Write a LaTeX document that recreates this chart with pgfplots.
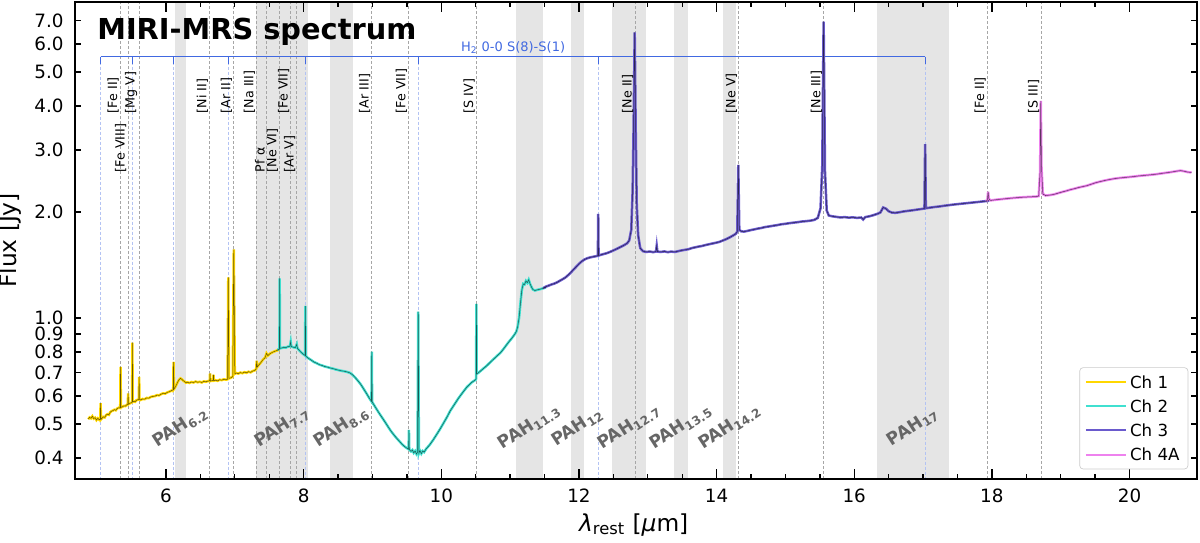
\documentclass[border=0pt]{standalone}
\usepackage{fontspec}
\setmainfont{DejaVu Sans}
\usepackage{pgfplots}
\usepackage{pgfplotstable}
\pgfplotsset{compat=1.18}

\definecolor{chone}{HTML}{FFD700}
\definecolor{chtwo}{HTML}{40E0D0}
\definecolor{chthree}{HTML}{6A5ACD}
\definecolor{chfour}{HTML}{EE82EE}
\definecolor{band}{HTML}{E5E5E5}
\definecolor{htwo}{HTML}{4169E1}
\definecolor{pahgray}{HTML}{666666}

% Channel 1
\pgfplotstableread{
lam flux
4.87 0.516
4.89 0.522
4.91 0.519
4.93 0.526
4.95 0.518
4.97 0.521
4.99 0.513
5.01 0.519
5.03 0.514
5.045 0.516
5.05 0.573
5.055 0.515
5.07 0.519
5.09 0.524
5.11 0.522
5.13 0.530
5.15 0.533
5.17 0.531
5.19 0.540
5.21 0.544
5.23 0.546
5.25 0.549
5.27 0.547
5.29 0.553
5.31 0.556
5.335 0.555
5.34 0.727
5.345 0.557
5.37 0.560
5.39 0.563
5.41 0.562
5.43 0.567
5.445 0.568
5.45 0.611
5.455 0.569
5.48 0.573
5.50 0.575
5.508 0.576
5.512 0.851
5.516 0.578
5.53 0.580
5.55 0.578
5.57 0.584
5.59 0.586
5.605 0.587
5.61 0.681
5.615 0.588
5.63 0.585
5.66 0.589
5.69 0.588
5.72 0.593
5.75 0.592
5.78 0.597
5.81 0.599
5.84 0.600
5.87 0.604
5.90 0.603
5.93 0.608
5.96 0.611
5.99 0.610
6.02 0.615
6.05 0.618
6.08 0.622
6.105 0.625
6.11 0.751
6.115 0.628
6.13 0.634
6.15 0.645
6.17 0.658
6.19 0.668
6.21 0.674
6.23 0.670
6.25 0.664
6.27 0.660
6.29 0.655
6.31 0.657
6.34 0.654
6.37 0.658
6.40 0.656
6.43 0.660
6.46 0.657
6.49 0.659
6.52 0.656
6.55 0.661
6.58 0.659
6.61 0.662
6.635 0.663
6.64 0.696
6.645 0.662
6.67 0.664
6.685 0.665
6.69 0.690
6.695 0.664
6.72 0.666
6.75 0.663
6.78 0.668
6.81 0.666
6.84 0.670
6.87 0.668
6.895 0.670
6.905 1.305
6.915 0.674
6.94 0.676
6.97 0.682
6.985 1.567
7.00 0.694
7.02 0.698
7.05 0.695
7.08 0.700
7.11 0.697
7.14 0.702
7.17 0.699
7.20 0.704
7.23 0.701
7.26 0.707
7.29 0.710
7.31 0.716
7.318 0.756
7.326 0.726
7.35 0.736
7.38 0.748
7.41 0.762
7.44 0.772
7.46 0.794
7.48 0.782
7.51 0.792
7.54 0.798
7.57 0.803
7.60 0.807
7.63 0.811
7.65 0.813
}\chA

% Channel 2
\pgfplotstableread{
lam flux
7.62 0.812
7.64 0.816
7.648 0.818
7.652 1.296
7.656 0.820
7.68 0.822
7.71 0.825
7.74 0.824
7.77 0.829
7.80 0.831
7.812 0.856
7.82 0.830
7.85 0.826
7.88 0.824
7.90 0.842
7.91 0.820
7.94 0.808
7.97 0.797
8.00 0.788
8.02 0.783
8.025 1.082
8.03 0.780
8.06 0.771
8.09 0.764
8.12 0.757
8.15 0.750
8.19 0.744
8.23 0.737
8.27 0.733
8.31 0.728
8.35 0.725
8.39 0.721
8.43 0.718
8.47 0.714
8.51 0.711
8.55 0.708
8.59 0.706
8.63 0.703
8.67 0.699
8.71 0.690
8.75 0.677
8.79 0.663
8.83 0.648
8.87 0.630
8.91 0.612
8.95 0.594
8.985 0.580
8.99 0.802
8.995 0.578
9.03 0.563
9.07 0.547
9.11 0.532
9.15 0.518
9.19 0.504
9.23 0.490
9.27 0.477
9.31 0.466
9.35 0.456
9.39 0.447
9.43 0.438
9.47 0.431
9.50 0.427
9.525 0.424
9.53 0.481
9.535 0.423
9.56 0.418
9.58 0.422
9.60 0.414
9.62 0.419
9.64 0.411
9.655 0.416
9.665 1.042
9.675 0.413
9.69 0.420
9.71 0.412
9.73 0.419
9.75 0.416
9.78 0.425
9.83 0.436
9.88 0.450
9.93 0.466
9.98 0.483
10.03 0.502
10.08 0.522
10.13 0.545
10.19 0.568
10.25 0.592
10.31 0.614
10.37 0.636
10.44 0.656
10.50 0.668
10.505 0.672
10.51 1.096
10.515 0.694
10.54 0.699
10.58 0.710
10.62 0.721
10.66 0.732
10.70 0.745
10.74 0.758
10.78 0.771
10.82 0.784
10.86 0.797
10.90 0.815
10.94 0.835
10.98 0.855
11.02 0.874
11.06 0.895
11.09 0.915
11.11 0.945
11.13 1.00
11.15 1.10
11.17 1.20
11.19 1.25
11.21 1.245
11.23 1.275
11.25 1.26
11.27 1.285
11.29 1.25
11.31 1.225
11.33 1.205
11.36 1.197
11.40 1.203
11.44 1.208
11.48 1.215
11.52 1.222
}\chB

% Channel 3
\pgfplotstableread{
lam flux
11.48 1.215
11.52 1.228
11.56 1.236
11.60 1.245
11.64 1.252
11.68 1.262
11.72 1.275
11.76 1.288
11.80 1.302
11.84 1.322
11.88 1.345
11.92 1.372
11.96 1.398
12.00 1.425
12.04 1.448
12.08 1.466
12.12 1.478
12.16 1.486
12.20 1.492
12.26 1.500
12.275 1.502
12.28 1.975
12.285 1.505
12.32 1.512
12.36 1.520
12.40 1.527
12.45 1.540
12.50 1.556
12.55 1.572
12.60 1.590
12.65 1.608
12.70 1.630
12.73 1.66
12.76 1.78
12.78 2.3
12.795 3.6
12.81 6.48
12.825 3.4
12.84 2.1
12.86 1.72
12.89 1.58
12.93 1.548
12.98 1.540
13.03 1.545
13.08 1.538
13.12 1.545
13.13 1.605
13.14 1.544
13.19 1.540
13.24 1.546
13.29 1.538
13.34 1.544
13.39 1.540
13.44 1.548
13.49 1.556
13.54 1.562
13.59 1.568
13.64 1.580
13.69 1.588
13.74 1.596
13.79 1.602
13.84 1.612
13.89 1.620
13.94 1.628
13.99 1.636
14.04 1.645
14.09 1.660
14.14 1.675
14.19 1.694
14.24 1.716
14.28 1.735
14.30 1.76
14.315 2.72
14.33 1.78
14.36 1.762
14.40 1.760
14.45 1.768
14.50 1.778
14.55 1.786
14.60 1.795
14.65 1.802
14.70 1.812
14.76 1.820
14.82 1.828
14.88 1.836
14.94 1.846
15.00 1.852
15.06 1.860
15.12 1.866
15.18 1.872
15.24 1.880
15.30 1.884
15.36 1.890
15.42 1.900
15.47 1.925
15.51 2.05
15.535 2.7
15.555 6.95
15.575 2.6
15.60 2.02
15.63 1.955
15.68 1.945
15.74 1.938
15.80 1.930
15.86 1.935
15.92 1.928
15.98 1.932
16.04 1.925
16.10 1.930
16.13 1.905
16.16 1.935
16.22 1.945
16.28 1.960
16.34 1.978
16.38 1.995
16.42 2.060
16.46 2.045
16.50 2.010
16.55 1.992
16.60 1.990
16.66 1.998
16.72 2.008
16.78 2.015
16.84 2.022
16.90 2.030
16.96 2.038
17.02 2.046
17.03 3.12
17.04 2.050
17.10 2.058
17.16 2.066
17.22 2.072
17.28 2.080
17.34 2.088
17.40 2.095
17.46 2.102
17.52 2.108
17.58 2.114
17.64 2.120
17.70 2.126
17.76 2.132
17.82 2.138
17.88 2.145
17.94 2.150
17.96 2.160
}\chC

% Channel 4A
\pgfplotstableread{
lam flux
17.92 2.148
17.935 2.170
17.945 2.285
17.955 2.180
17.98 2.158
18.04 2.165
18.10 2.172
18.16 2.178
18.22 2.184
18.28 2.190
18.34 2.195
18.40 2.200
18.46 2.204
18.52 2.207
18.58 2.210
18.64 2.212
18.68 2.220
18.70 2.600
18.71 4.136
18.72 2.700
18.74 2.250
18.78 2.228
18.84 2.234
18.90 2.244
18.96 2.262
19.02 2.280
19.08 2.296
19.14 2.315
19.20 2.330
19.26 2.348
19.32 2.362
19.38 2.376
19.44 2.398
19.50 2.420
19.57 2.440
19.64 2.458
19.71 2.474
19.78 2.488
19.85 2.498
19.92 2.506
19.99 2.514
20.06 2.522
20.13 2.532
20.20 2.540
20.27 2.547
20.34 2.555
20.41 2.565
20.48 2.577
20.55 2.588
20.62 2.600
20.69 2.614
20.74 2.622
20.79 2.612
20.84 2.598
20.90 2.590
}\chD

\begin{document}
\begin{tikzpicture}
\begin{axis}[
  at={(45pt,38.4pt)}, anchor=south west,
  scale only axis, width=673.2pt, height=286.2pt,
  xmin=4.678, xmax=20.98,
  ymode=log, ymin=0.349, ymax=7.90,
  xtick={6,8,...,20}, minor x tick num=3,
  ytick={0.4,0.5,0.6,0.7,0.8,0.9,1,2,3,4,5,6,7},
  yticklabels={0.4,0.5,0.6,0.7,0.8,0.9,1.0,2.0,3.0,4.0,5.0,6.0,7.0},
  tick align=inside,
  major tick length=6pt, minor tick length=3pt,
  ytick style={/pgfplots/major tick length=3.6pt},
  tick style={black, line width=0.8pt},
  axis line style={line width=0.9pt},
  /pgf/number format/assume math mode=true,
  tick label style={font=\fontsize{11}{13}\selectfont},
  xticklabel style={yshift=-2.6pt},
  yticklabel style={xshift=-3.3pt},
  xlabel={{\itshape λ}\textsubscript{rest} [{\itshape μ}m]},
  ylabel={Flux [Jy]},
  label style={font=\fontsize{14}{16}\selectfont},
  xlabel style={at={(axis description cs:0.498,-0.096)}, anchor=center},
  ylabel style={at={(axis description cs:-0.058,0.5)}, anchor=center},
  axis on top,
  legend style={at={(0.9922,0.0203)}, anchor=south east,
    font=\fontsize{10}{12}\selectfont,
    draw=black!20, rounded corners=2pt, fill=white,
    fill opacity=0.8, draw opacity=1, text opacity=1,
    row sep=3.2pt, inner xsep=3pt, inner ysep=3pt,
    nodes={text height=7.3pt, text depth=0pt, inner sep=2pt}},
  legend cell align=left,
  legend image code/.code={\draw[#1] (-2pt,0pt) -- (22pt,0pt);},
]

% PAH feature windows
\fill[band] (axis cs:6.13,0.349) rectangle (axis cs:6.29,7.9);
\fill[band] (axis cs:7.31,0.349) rectangle (axis cs:8.07,7.9);
\fill[band] (axis cs:8.38,0.349) rectangle (axis cs:8.72,7.9);
\fill[band] (axis cs:11.08,0.349) rectangle (axis cs:11.48,7.9);
\fill[band] (axis cs:11.88,0.349) rectangle (axis cs:12.08,7.9);
\fill[band] (axis cs:12.48,0.349) rectangle (axis cs:12.98,7.9);
\fill[band] (axis cs:13.38,0.349) rectangle (axis cs:13.58,7.9);
\fill[band] (axis cs:14.09,0.349) rectangle (axis cs:14.28,7.9);
\fill[band] (axis cs:16.33,0.349) rectangle (axis cs:17.38,7.9);

% ionic fine-structure lines
\pgfplotsinvokeforeach{5.340,5.447,5.608,6.636,6.985,7.318,7.460,7.652,7.815,7.902,8.991,9.527,10.511,12.814,14.322,15.555,17.936,18.713}{
  \draw[black!35, line width=0.5pt, dash pattern=on 1.8pt off 1.2pt] (axis cs:#1,0.349) -- (axis cs:#1,7.9);
}

% H2 0-0 rotational lines
\pgfplotsinvokeforeach{5.053,5.511,6.109,6.909,8.025,9.665,12.279,17.035}{
  \draw[htwo!40, line width=0.5pt, dash pattern=on 1.8pt off 1.2pt] (axis cs:#1,5.525) -- (axis cs:#1,0.349);
  \draw[htwo, line width=0.6pt] (axis cs:#1,5.525) -- (axis cs:#1,5.27);
}
\draw[htwo, line width=0.6pt] (axis cs:5.053,5.525) -- (axis cs:17.035,5.525);
\node[text=htwo, font=\fontsize{7.8}{9}\selectfont, anchor=base, inner sep=0pt]
  at (axis cs:11.044,5.708) {H\textsubscript{2} 0-0 S(8)-S(1)};

% spectra: channel colour underneath, thin dark trace on top
\addplot[chone, line width=1.5pt, forget plot] table[x=lam,y=flux]{\chA};
\addplot[chtwo, line width=1.5pt, forget plot] table[x=lam,y=flux]{\chB};
\addplot[chthree, line width=1.5pt, forget plot] table[x=lam,y=flux]{\chC};
\addplot[chfour, line width=1.5pt, forget plot] table[x=lam,y=flux]{\chD};
\addplot[black, line width=0.3pt, opacity=0.6, forget plot] table[x=lam,y=flux]{\chA};
\addplot[black, line width=0.3pt, opacity=0.6, forget plot] table[x=lam,y=flux]{\chB};
\addplot[black, line width=0.3pt, opacity=0.6, forget plot] table[x=lam,y=flux]{\chC};
\addplot[black, line width=0.3pt, opacity=0.6, forget plot] table[x=lam,y=flux]{\chD};

% line identifications
\tikzset{ion/.style={rotate=90, anchor=south west, inner sep=0.8pt, font=\fontsize{7.6}{9}\selectfont}}
\node[ion] at (axis cs:5.340,3.78) {[Fe II]};
\node[ion] at (axis cs:5.447,2.57) {[Fe VIII]};
\node[ion] at (axis cs:5.608,3.78) {[Mg V]};
\node[ion] at (axis cs:6.636,3.78) {[Ni II]};
\node[ion] at (axis cs:6.985,3.78) {[Ar II]};
\node[ion] at (axis cs:7.318,3.78) {[Na III]};
\node[ion] at (axis cs:7.460,2.57) {Pf α};
\node[ion] at (axis cs:7.652,2.57) {[Ne VI]};
\node[ion] at (axis cs:7.815,3.78) {[Fe VII]};
\node[ion] at (axis cs:7.902,2.57) {[Ar V]};
\node[ion] at (axis cs:8.991,3.78) {[Ar III]};
\node[ion] at (axis cs:9.527,3.78) {[Fe VII]};
\node[ion] at (axis cs:10.511,3.78) {[S IV]};
\node[ion] at (axis cs:12.814,3.78) {[Ne II]};
\node[ion] at (axis cs:14.322,3.78) {[Ne V]};
\node[ion] at (axis cs:15.555,3.78) {[Ne III]};
\node[ion] at (axis cs:17.936,3.78) {[Fe II]};
\node[ion] at (axis cs:18.713,3.78) {[S III]};

% PAH band names
\tikzset{pah/.style={rotate=33, anchor=center, inner sep=0pt, text=pahgray, font=\bfseries\fontsize{10.3}{12}\selectfont}}
\node[pah] at (axis cs:6.21,0.49) {PAH\textsubscript{6.2}};
\node[pah] at (axis cs:7.69,0.49) {PAH\textsubscript{7.7}};
\node[pah] at (axis cs:8.55,0.49) {PAH\textsubscript{8.6}};
\node[pah] at (axis cs:11.28,0.49) {PAH\textsubscript{11.3}};
\node[pah] at (axis cs:11.98,0.49) {PAH\textsubscript{12}};
\node[pah] at (axis cs:12.73,0.49) {PAH\textsubscript{12.7}};
\node[pah] at (axis cs:13.48,0.49) {PAH\textsubscript{13.5}};
\node[pah] at (axis cs:14.19,0.49) {PAH\textsubscript{14.2}};
\node[pah] at (axis cs:16.85,0.49) {PAH\textsubscript{17}};

% title
\node[anchor=base west, inner sep=0pt, font=\bfseries\fontsize{17.3}{20}\selectfont]
  at (rel axis cs:0.0196,0.9218) {MIRI-MRS spectrum};

\addlegendimage{chone, line width=1.2pt}\addlegendentry{Ch 1}
\addlegendimage{chtwo, line width=1.2pt}\addlegendentry{Ch 2}
\addlegendimage{chthree, line width=1.2pt}\addlegendentry{Ch 3}
\addlegendimage{chfour, line width=1.2pt}\addlegendentry{Ch 4A}
\end{axis}
\pgfresetboundingbox
\path[use as bounding box] (0,0) rectangle (720pt,325.8pt);
\end{tikzpicture}
\end{document}
